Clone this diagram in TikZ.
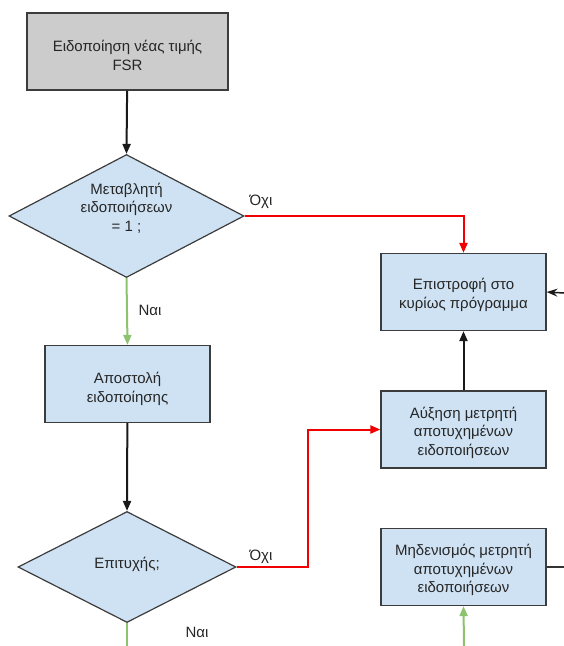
\documentclass[tikz,border=0pt]{standalone}
\usepackage{fontspec}
\setmainfont{Liberation Sans}
\usetikzlibrary{shapes.geometric,arrows.meta}

\definecolor{boxblue}{HTML}{CFE2F3}
\definecolor{boxgray}{HTML}{CCCCCC}
\definecolor{edgegray}{HTML}{3C3C3C}
\definecolor{noline}{HTML}{F00000}
\definecolor{yesline}{HTML}{8DC26F}

\tikzset{
  x=1pt, y=-1pt,
  every node/.style={font=\fontsize{15}{18.5}\selectfont, text=black!85},
  procbox/.style={draw=edgegray, line width=1.2pt, fill=boxblue, rectangle,
    minimum width=165pt, minimum height=77pt, inner sep=0pt},
  startbox/.style={procbox, fill=boxgray, minimum width=201pt},
  decision/.style={draw=edgegray, line width=1.2pt, fill=boxblue, diamond,
    inner sep=0pt},
  txt/.style={align=center, inner sep=0pt},
  flow/.style={line width=2pt, -{Triangle[length=10pt,width=8pt]}},
  plain/.style={line width=2pt},
  thin arrow/.style={line width=1.5pt, -{Stealth[length=11pt,width=8pt,inset=4pt]}},
  black flow/.style={flow, draw=black!90},
  no flow/.style={flow, draw=noline},
  yes flow/.style={flow, draw=yesline},
}

\begin{document}
\begin{tikzpicture}
  \useasboundingbox (0,0) rectangle (564,646);

  % start of the routine
  \node[startbox] (start) at (127.5,51.5) {};
  \node[txt] (startT) at (127.5,55.5) {Ειδοποίηση νέας τιμής\\FSR};

  % first decision
  \node[decision, minimum width=235pt, minimum height=123pt] (d1) at (126.5,216) {};
  \node[txt] (d1T) at (126.5,208) {Μεταβλητή\\ειδοποιήσεων\\= 1 ;};

  % process boxes
  \node[procbox] (ret) at (463.5,292) {};
  \node[txt] (retT) at (463.5,295) {Επιστροφή στο\\κυρίως πρόγραμμα};
  \node[procbox] (inc) at (463.5,429.5) {};
  \node[txt] (incT) at (463.5,432.5) {Αύξηση μετρητή\\αποτυχημένων\\ειδοποιήσεων};
  \node[procbox] (send) at (127.5,384) {};
  \node[txt] (sendT) at (127.5,389) {Αποστολή\\ειδοποίησης};
  \node[procbox] (rst) at (463.5,567) {};
  \node[txt] (rstT) at (463.5,570) {Μηδενισμός μετρητή\\αποτυχημένων\\ειδοποιήσεων};

  % second decision
  \node[decision, minimum width=218pt, minimum height=111pt] (d2) at (127,567) {};
  \node[txt] (d2T) at (127,564) {Επιτυχής;};

  % loose ends at the border
  \coordinate (inR) at (564,293);
  \coordinate (outR) at (564,567);
  \coordinate (bend) at (308,567);
  \coordinate (downEnd) at (127,646);
  \coordinate (upStart) at (464,646);

  % connectors
  \draw[black flow] (start) -- (d1.north);
  \draw[yes flow] (d1.south) -- (send.north);
  \draw[black flow] (send) -- (d2.north);
  \draw[no flow] (d1.east) -| (ret.north);
  \draw[black flow] (inc) -- (ret);
  \draw[no flow] (d2.east) -- (bend) |- (inc.west);
  \draw[thin arrow, draw=black!90] (inR) -- (ret.east);
  \draw[plain, draw=black!80] (rst.east) -- (outR);
  \draw[plain, draw=yesline] (d2.south) -- (downEnd);
  \draw[yes flow] (upStart) -- (rst.south);

  % branch labels
  \node[txt] (no1) at (261,202) {Όχι};
  \node[txt] (yes1) at (150,310) {Ναι};
  \node[txt] (no2) at (261,557) {Όχι};
  \node[txt] (yes2) at (197,632) {Ναι};
\end{tikzpicture}
\end{document}
